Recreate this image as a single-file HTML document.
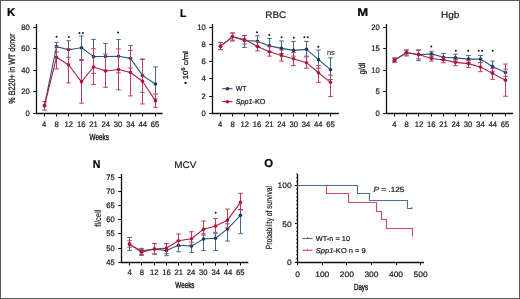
<!DOCTYPE html>
<html><head><meta charset="utf-8"><style>
html,body{margin:0;padding:0;background:#fff;}
body{width:520px;height:299px;overflow:hidden;}
svg{display:block;will-change:transform;text-rendering:geometricPrecision;font-family:"Liberation Sans",sans-serif;}
text{stroke:currentColor;stroke-width:0.22px;}
</style></head><body>
<svg width="520" height="299" viewBox="0 0 520 299">
<rect x="0" y="0" width="520" height="299" fill="#fff"/>
<text x="11.10" y="16.35" font-size="11.4" text-anchor="middle" font-weight="bold" fill="#000" color="#000" >K</text>
<line x1="36.50" y1="23.90" x2="36.50" y2="114.05" stroke="#111" stroke-width="1.3" />
<line x1="33.20" y1="113.50" x2="36.50" y2="113.50" stroke="#111" stroke-width="1.0" />
<text x="29.70" y="115.90" font-size="7.9" text-anchor="end" font-weight="normal" fill="#1a1a1a" color="#1a1a1a" transform="translate(29.70 0) scale(0.97 1) translate(-29.70 0)" >0</text>
<line x1="33.20" y1="91.50" x2="36.50" y2="91.50" stroke="#111" stroke-width="1.0" />
<text x="29.70" y="94.40" font-size="7.9" text-anchor="end" font-weight="normal" fill="#1a1a1a" color="#1a1a1a" transform="translate(29.70 0) scale(0.97 1) translate(-29.70 0)" >20</text>
<line x1="33.20" y1="70.50" x2="36.50" y2="70.50" stroke="#111" stroke-width="1.0" />
<text x="29.70" y="72.90" font-size="7.9" text-anchor="end" font-weight="normal" fill="#1a1a1a" color="#1a1a1a" transform="translate(29.70 0) scale(0.97 1) translate(-29.70 0)" >40</text>
<line x1="33.20" y1="48.50" x2="36.50" y2="48.50" stroke="#111" stroke-width="1.0" />
<text x="29.70" y="51.40" font-size="7.9" text-anchor="end" font-weight="normal" fill="#1a1a1a" color="#1a1a1a" transform="translate(29.70 0) scale(0.97 1) translate(-29.70 0)" >60</text>
<line x1="33.20" y1="27.50" x2="36.50" y2="27.50" stroke="#111" stroke-width="1.0" />
<text x="29.70" y="29.90" font-size="7.9" text-anchor="end" font-weight="normal" fill="#1a1a1a" color="#1a1a1a" transform="translate(29.70 0) scale(0.97 1) translate(-29.70 0)" >80</text>
<line x1="35.85" y1="113.50" x2="162.60" y2="113.50" stroke="#111" stroke-width="1.3" />
<line x1="44.50" y1="113.50" x2="44.50" y2="116.50" stroke="#111" stroke-width="1.0" />
<text x="44.25" y="126.80" font-size="7.9" text-anchor="middle" font-weight="normal" fill="#1a1a1a" color="#1a1a1a" transform="translate(44.25 0) scale(0.97 1) translate(-44.25 0)" >4</text>
<line x1="56.50" y1="113.50" x2="56.50" y2="116.50" stroke="#111" stroke-width="1.0" />
<text x="56.56" y="126.80" font-size="7.9" text-anchor="middle" font-weight="normal" fill="#1a1a1a" color="#1a1a1a" transform="translate(56.56 0) scale(0.97 1) translate(-56.56 0)" >8</text>
<line x1="68.50" y1="113.50" x2="68.50" y2="116.50" stroke="#111" stroke-width="1.0" />
<text x="68.87" y="126.80" font-size="7.9" text-anchor="middle" font-weight="normal" fill="#1a1a1a" color="#1a1a1a" transform="translate(68.87 0) scale(0.97 1) translate(-68.87 0)" >12</text>
<line x1="81.50" y1="113.50" x2="81.50" y2="116.50" stroke="#111" stroke-width="1.0" />
<text x="81.18" y="126.80" font-size="7.9" text-anchor="middle" font-weight="normal" fill="#1a1a1a" color="#1a1a1a" transform="translate(81.18 0) scale(0.97 1) translate(-81.18 0)" >16</text>
<line x1="93.50" y1="113.50" x2="93.50" y2="116.50" stroke="#111" stroke-width="1.0" />
<text x="93.49" y="126.80" font-size="7.9" text-anchor="middle" font-weight="normal" fill="#1a1a1a" color="#1a1a1a" transform="translate(93.49 0) scale(0.97 1) translate(-93.49 0)" >21</text>
<line x1="105.50" y1="113.50" x2="105.50" y2="116.50" stroke="#111" stroke-width="1.0" />
<text x="105.80" y="126.80" font-size="7.9" text-anchor="middle" font-weight="normal" fill="#1a1a1a" color="#1a1a1a" transform="translate(105.80 0) scale(0.97 1) translate(-105.80 0)" >24</text>
<line x1="118.50" y1="113.50" x2="118.50" y2="116.50" stroke="#111" stroke-width="1.0" />
<text x="118.11" y="126.80" font-size="7.9" text-anchor="middle" font-weight="normal" fill="#1a1a1a" color="#1a1a1a" transform="translate(118.11 0) scale(0.97 1) translate(-118.11 0)" >30</text>
<line x1="130.50" y1="113.50" x2="130.50" y2="116.50" stroke="#111" stroke-width="1.0" />
<text x="130.42" y="126.80" font-size="7.9" text-anchor="middle" font-weight="normal" fill="#1a1a1a" color="#1a1a1a" transform="translate(130.42 0) scale(0.97 1) translate(-130.42 0)" >34</text>
<line x1="142.50" y1="113.50" x2="142.50" y2="116.50" stroke="#111" stroke-width="1.0" />
<text x="142.73" y="126.80" font-size="7.9" text-anchor="middle" font-weight="normal" fill="#1a1a1a" color="#1a1a1a" transform="translate(142.73 0) scale(0.97 1) translate(-142.73 0)" >44</text>
<line x1="155.50" y1="113.50" x2="155.50" y2="116.50" stroke="#111" stroke-width="1.0" />
<text x="155.04" y="126.80" font-size="7.9" text-anchor="middle" font-weight="normal" fill="#1a1a1a" color="#1a1a1a" transform="translate(155.04 0) scale(0.97 1) translate(-155.04 0)" >65</text>
<text x="99.25" y="139.70" font-size="8.8" text-anchor="middle" font-weight="normal" fill="#1a1a1a" color="#1a1a1a" transform="translate(99.25 0) scale(0.72 1) translate(-99.25 0)" style="stroke-width:0.4px">Weeks</text>
<text font-size="9.2" fill="#1a1a1a" color="#1a1a1a" text-anchor="middle" style="stroke-width:0.3px" transform="translate(15.20 68.60) rotate(-90) scale(0.78 1)">% B220+ in WT donor</text>
<line x1="56.50" y1="46.62" x2="56.50" y2="51.95" stroke="#416890" stroke-width="1.0" />
<line x1="54.20" y1="51.95" x2="58.80" y2="51.95" stroke="#416890" stroke-width="1.0" />
<line x1="56.50" y1="46.62" x2="56.50" y2="42.34" stroke="#416890" stroke-width="1.0" />
<line x1="54.20" y1="42.34" x2="58.80" y2="42.34" stroke="#416890" stroke-width="1.0" />
<line x1="68.50" y1="49.82" x2="68.50" y2="57.29" stroke="#416890" stroke-width="1.0" />
<line x1="66.20" y1="57.29" x2="70.80" y2="57.29" stroke="#416890" stroke-width="1.0" />
<line x1="68.50" y1="49.82" x2="68.50" y2="40.74" stroke="#416890" stroke-width="1.0" />
<line x1="66.20" y1="40.74" x2="70.80" y2="40.74" stroke="#416890" stroke-width="1.0" />
<line x1="81.50" y1="47.68" x2="81.50" y2="60.49" stroke="#416890" stroke-width="1.0" />
<line x1="79.20" y1="60.49" x2="83.80" y2="60.49" stroke="#416890" stroke-width="1.0" />
<line x1="81.50" y1="47.68" x2="81.50" y2="35.94" stroke="#416890" stroke-width="1.0" />
<line x1="79.20" y1="35.94" x2="83.80" y2="35.94" stroke="#416890" stroke-width="1.0" />
<line x1="93.50" y1="56.65" x2="93.50" y2="73.30" stroke="#416890" stroke-width="1.0" />
<line x1="91.20" y1="73.30" x2="95.80" y2="73.30" stroke="#416890" stroke-width="1.0" />
<line x1="93.50" y1="56.65" x2="93.50" y2="39.36" stroke="#416890" stroke-width="1.0" />
<line x1="91.20" y1="39.36" x2="95.80" y2="39.36" stroke="#416890" stroke-width="1.0" />
<line x1="105.50" y1="56.44" x2="105.50" y2="70.10" stroke="#416890" stroke-width="1.0" />
<line x1="103.20" y1="70.10" x2="107.80" y2="70.10" stroke="#416890" stroke-width="1.0" />
<line x1="105.50" y1="56.44" x2="105.50" y2="43.41" stroke="#416890" stroke-width="1.0" />
<line x1="103.20" y1="43.41" x2="107.80" y2="43.41" stroke="#416890" stroke-width="1.0" />
<line x1="118.50" y1="56.22" x2="118.50" y2="72.88" stroke="#416890" stroke-width="1.0" />
<line x1="116.20" y1="72.88" x2="120.80" y2="72.88" stroke="#416890" stroke-width="1.0" />
<line x1="118.50" y1="56.22" x2="118.50" y2="39.57" stroke="#416890" stroke-width="1.0" />
<line x1="116.20" y1="39.57" x2="120.80" y2="39.57" stroke="#416890" stroke-width="1.0" />
<line x1="130.50" y1="58.36" x2="130.50" y2="67.97" stroke="#416890" stroke-width="1.0" />
<line x1="128.20" y1="67.97" x2="132.80" y2="67.97" stroke="#416890" stroke-width="1.0" />
<line x1="130.50" y1="58.36" x2="130.50" y2="45.55" stroke="#416890" stroke-width="1.0" />
<line x1="128.20" y1="45.55" x2="132.80" y2="45.55" stroke="#416890" stroke-width="1.0" />
<line x1="142.50" y1="75.44" x2="142.50" y2="92.30" stroke="#416890" stroke-width="1.0" />
<line x1="140.20" y1="92.30" x2="144.80" y2="92.30" stroke="#416890" stroke-width="1.0" />
<line x1="142.50" y1="75.44" x2="142.50" y2="59.43" stroke="#416890" stroke-width="1.0" />
<line x1="140.20" y1="59.43" x2="144.80" y2="59.43" stroke="#416890" stroke-width="1.0" />
<line x1="155.50" y1="83.98" x2="155.50" y2="98.92" stroke="#416890" stroke-width="1.0" />
<line x1="153.20" y1="98.92" x2="157.80" y2="98.92" stroke="#416890" stroke-width="1.0" />
<line x1="155.50" y1="83.98" x2="155.50" y2="66.90" stroke="#416890" stroke-width="1.0" />
<line x1="153.20" y1="66.90" x2="157.80" y2="66.90" stroke="#416890" stroke-width="1.0" />
<polyline points="44.50,105.33 56.50,46.62 68.50,49.82 81.50,47.68 93.50,56.65 105.50,56.44 118.50,56.22 130.50,58.36 142.50,75.44 155.50,83.98" fill="none" stroke="#2c5580" stroke-width="1.1" stroke-linejoin="round"/>
<circle cx="44.50" cy="105.33" r="1.8" fill="#1c3a5c"/>
<circle cx="56.50" cy="46.62" r="1.8" fill="#1c3a5c"/>
<circle cx="68.50" cy="49.82" r="1.8" fill="#1c3a5c"/>
<circle cx="81.50" cy="47.68" r="1.8" fill="#1c3a5c"/>
<circle cx="93.50" cy="56.65" r="1.8" fill="#1c3a5c"/>
<circle cx="105.50" cy="56.44" r="1.8" fill="#1c3a5c"/>
<circle cx="118.50" cy="56.22" r="1.8" fill="#1c3a5c"/>
<circle cx="130.50" cy="58.36" r="1.8" fill="#1c3a5c"/>
<circle cx="142.50" cy="75.44" r="1.8" fill="#1c3a5c"/>
<circle cx="155.50" cy="83.98" r="1.8" fill="#1c3a5c"/>
<line x1="44.50" y1="105.97" x2="44.50" y2="110.13" stroke="#c8385c" stroke-width="1.0" />
<line x1="42.20" y1="110.13" x2="46.80" y2="110.13" stroke="#c8385c" stroke-width="1.0" />
<line x1="44.50" y1="105.97" x2="44.50" y2="101.59" stroke="#c8385c" stroke-width="1.0" />
<line x1="42.20" y1="101.59" x2="46.80" y2="101.59" stroke="#c8385c" stroke-width="1.0" />
<line x1="56.50" y1="57.29" x2="56.50" y2="69.03" stroke="#c8385c" stroke-width="1.0" />
<line x1="54.20" y1="69.03" x2="58.80" y2="69.03" stroke="#c8385c" stroke-width="1.0" />
<line x1="56.50" y1="57.29" x2="56.50" y2="46.62" stroke="#c8385c" stroke-width="1.0" />
<line x1="54.20" y1="46.62" x2="58.80" y2="46.62" stroke="#c8385c" stroke-width="1.0" />
<line x1="68.50" y1="64.76" x2="68.50" y2="82.91" stroke="#c8385c" stroke-width="1.0" />
<line x1="66.20" y1="82.91" x2="70.80" y2="82.91" stroke="#c8385c" stroke-width="1.0" />
<line x1="68.50" y1="64.76" x2="68.50" y2="48.75" stroke="#c8385c" stroke-width="1.0" />
<line x1="66.20" y1="48.75" x2="70.80" y2="48.75" stroke="#c8385c" stroke-width="1.0" />
<line x1="81.50" y1="81.84" x2="81.50" y2="103.19" stroke="#c8385c" stroke-width="1.0" />
<line x1="79.20" y1="103.19" x2="83.80" y2="103.19" stroke="#c8385c" stroke-width="1.0" />
<line x1="81.50" y1="81.84" x2="81.50" y2="59.43" stroke="#c8385c" stroke-width="1.0" />
<line x1="79.20" y1="59.43" x2="83.80" y2="59.43" stroke="#c8385c" stroke-width="1.0" />
<line x1="93.50" y1="67.00" x2="93.50" y2="84.51" stroke="#c8385c" stroke-width="1.0" />
<line x1="91.20" y1="84.51" x2="95.80" y2="84.51" stroke="#c8385c" stroke-width="1.0" />
<line x1="93.50" y1="67.00" x2="93.50" y2="48.75" stroke="#c8385c" stroke-width="1.0" />
<line x1="91.20" y1="48.75" x2="95.80" y2="48.75" stroke="#c8385c" stroke-width="1.0" />
<line x1="105.50" y1="70.95" x2="105.50" y2="87.29" stroke="#c8385c" stroke-width="1.0" />
<line x1="103.20" y1="87.29" x2="107.80" y2="87.29" stroke="#c8385c" stroke-width="1.0" />
<line x1="105.50" y1="70.95" x2="105.50" y2="54.09" stroke="#c8385c" stroke-width="1.0" />
<line x1="103.20" y1="54.09" x2="107.80" y2="54.09" stroke="#c8385c" stroke-width="1.0" />
<line x1="118.50" y1="69.57" x2="118.50" y2="89.85" stroke="#c8385c" stroke-width="1.0" />
<line x1="116.20" y1="89.85" x2="120.80" y2="89.85" stroke="#c8385c" stroke-width="1.0" />
<line x1="118.50" y1="69.57" x2="118.50" y2="48.96" stroke="#c8385c" stroke-width="1.0" />
<line x1="116.20" y1="48.96" x2="120.80" y2="48.96" stroke="#c8385c" stroke-width="1.0" />
<line x1="130.50" y1="72.56" x2="130.50" y2="95.93" stroke="#c8385c" stroke-width="1.0" />
<line x1="128.20" y1="95.93" x2="132.80" y2="95.93" stroke="#c8385c" stroke-width="1.0" />
<line x1="130.50" y1="72.56" x2="130.50" y2="50.46" stroke="#c8385c" stroke-width="1.0" />
<line x1="128.20" y1="50.46" x2="132.80" y2="50.46" stroke="#c8385c" stroke-width="1.0" />
<line x1="142.50" y1="81.31" x2="142.50" y2="103.94" stroke="#c8385c" stroke-width="1.0" />
<line x1="140.20" y1="103.94" x2="144.80" y2="103.94" stroke="#c8385c" stroke-width="1.0" />
<line x1="142.50" y1="81.31" x2="142.50" y2="59.00" stroke="#c8385c" stroke-width="1.0" />
<line x1="140.20" y1="59.00" x2="144.80" y2="59.00" stroke="#c8385c" stroke-width="1.0" />
<line x1="155.50" y1="100.90" x2="155.50" y2="107.30" stroke="#c8385c" stroke-width="1.0" />
<line x1="153.20" y1="107.30" x2="157.80" y2="107.30" stroke="#c8385c" stroke-width="1.0" />
<line x1="155.50" y1="100.90" x2="155.50" y2="94.12" stroke="#c8385c" stroke-width="1.0" />
<line x1="153.20" y1="94.12" x2="157.80" y2="94.12" stroke="#c8385c" stroke-width="1.0" />
<polyline points="44.50,105.97 56.50,57.29 68.50,64.76 81.50,81.84 93.50,67.00 105.50,70.95 118.50,69.57 130.50,72.56 142.50,81.31 155.50,100.90" fill="none" stroke="#b41c42" stroke-width="1.1" stroke-linejoin="round"/>
<circle cx="44.50" cy="105.97" r="1.8" fill="#b0143f"/>
<circle cx="56.50" cy="57.29" r="1.8" fill="#b0143f"/>
<circle cx="68.50" cy="64.76" r="1.8" fill="#b0143f"/>
<circle cx="81.50" cy="81.84" r="1.8" fill="#b0143f"/>
<circle cx="93.50" cy="67.00" r="1.8" fill="#b0143f"/>
<circle cx="105.50" cy="70.95" r="1.8" fill="#b0143f"/>
<circle cx="118.50" cy="69.57" r="1.8" fill="#b0143f"/>
<circle cx="130.50" cy="72.56" r="1.8" fill="#b0143f"/>
<circle cx="142.50" cy="81.31" r="1.8" fill="#b0143f"/>
<circle cx="155.50" cy="100.90" r="1.8" fill="#b0143f"/>
<circle cx="56.56" cy="36.80" r="1.0" fill="#151515"/>
<circle cx="68.87" cy="37.10" r="1.0" fill="#151515"/>
<circle cx="79.48" cy="33.00" r="1.0" fill="#151515"/>
<circle cx="82.88" cy="33.00" r="1.0" fill="#151515"/>
<circle cx="118.11" cy="32.50" r="1.0" fill="#151515"/>
<text x="183.10" y="16.50" font-size="11.4" text-anchor="middle" font-weight="bold" fill="#000" color="#000" transform="translate(183.10 0) scale(0.92 1) translate(-183.10 0)" >L</text>
<text x="275.75" y="18.20" font-size="9.5" text-anchor="middle" font-weight="normal" fill="#1a1a1a" color="#1a1a1a" transform="translate(275.75 0) scale(1.05 1) translate(-275.75 0)" style="stroke-width:0.2px">RBC</text>
<line x1="212.50" y1="23.90" x2="212.50" y2="113.95" stroke="#111" stroke-width="1.3" />
<line x1="209.20" y1="113.50" x2="212.50" y2="113.50" stroke="#111" stroke-width="1.0" />
<text x="205.70" y="115.80" font-size="7.9" text-anchor="end" font-weight="normal" fill="#1a1a1a" color="#1a1a1a" transform="translate(205.70 0) scale(0.97 1) translate(-205.70 0)" >0</text>
<line x1="209.20" y1="96.50" x2="212.50" y2="96.50" stroke="#111" stroke-width="1.0" />
<text x="205.70" y="98.58" font-size="7.9" text-anchor="end" font-weight="normal" fill="#1a1a1a" color="#1a1a1a" transform="translate(205.70 0) scale(0.97 1) translate(-205.70 0)" >2</text>
<line x1="209.20" y1="78.50" x2="212.50" y2="78.50" stroke="#111" stroke-width="1.0" />
<text x="205.70" y="81.36" font-size="7.9" text-anchor="end" font-weight="normal" fill="#1a1a1a" color="#1a1a1a" transform="translate(205.70 0) scale(0.97 1) translate(-205.70 0)" >4</text>
<line x1="209.20" y1="61.50" x2="212.50" y2="61.50" stroke="#111" stroke-width="1.0" />
<text x="205.70" y="64.14" font-size="7.9" text-anchor="end" font-weight="normal" fill="#1a1a1a" color="#1a1a1a" transform="translate(205.70 0) scale(0.97 1) translate(-205.70 0)" >6</text>
<line x1="209.20" y1="44.50" x2="212.50" y2="44.50" stroke="#111" stroke-width="1.0" />
<text x="205.70" y="46.92" font-size="7.9" text-anchor="end" font-weight="normal" fill="#1a1a1a" color="#1a1a1a" transform="translate(205.70 0) scale(0.97 1) translate(-205.70 0)" >8</text>
<line x1="209.20" y1="27.50" x2="212.50" y2="27.50" stroke="#111" stroke-width="1.0" />
<text x="205.70" y="29.70" font-size="7.9" text-anchor="end" font-weight="normal" fill="#1a1a1a" color="#1a1a1a" transform="translate(205.70 0) scale(0.97 1) translate(-205.70 0)" >10</text>
<line x1="211.85" y1="113.50" x2="338.90" y2="113.50" stroke="#111" stroke-width="1.3" />
<line x1="220.50" y1="113.50" x2="220.50" y2="116.50" stroke="#111" stroke-width="1.0" />
<text x="220.25" y="126.70" font-size="7.9" text-anchor="middle" font-weight="normal" fill="#1a1a1a" color="#1a1a1a" transform="translate(220.25 0) scale(0.97 1) translate(-220.25 0)" >4</text>
<line x1="232.50" y1="113.50" x2="232.50" y2="116.50" stroke="#111" stroke-width="1.0" />
<text x="232.51" y="126.70" font-size="7.9" text-anchor="middle" font-weight="normal" fill="#1a1a1a" color="#1a1a1a" transform="translate(232.51 0) scale(0.97 1) translate(-232.51 0)" >8</text>
<line x1="244.50" y1="113.50" x2="244.50" y2="116.50" stroke="#111" stroke-width="1.0" />
<text x="244.77" y="126.70" font-size="7.9" text-anchor="middle" font-weight="normal" fill="#1a1a1a" color="#1a1a1a" transform="translate(244.77 0) scale(0.97 1) translate(-244.77 0)" >12</text>
<line x1="257.50" y1="113.50" x2="257.50" y2="116.50" stroke="#111" stroke-width="1.0" />
<text x="257.03" y="126.70" font-size="7.9" text-anchor="middle" font-weight="normal" fill="#1a1a1a" color="#1a1a1a" transform="translate(257.03 0) scale(0.97 1) translate(-257.03 0)" >16</text>
<line x1="269.50" y1="113.50" x2="269.50" y2="116.50" stroke="#111" stroke-width="1.0" />
<text x="269.29" y="126.70" font-size="7.9" text-anchor="middle" font-weight="normal" fill="#1a1a1a" color="#1a1a1a" transform="translate(269.29 0) scale(0.97 1) translate(-269.29 0)" >21</text>
<line x1="281.50" y1="113.50" x2="281.50" y2="116.50" stroke="#111" stroke-width="1.0" />
<text x="281.55" y="126.70" font-size="7.9" text-anchor="middle" font-weight="normal" fill="#1a1a1a" color="#1a1a1a" transform="translate(281.55 0) scale(0.97 1) translate(-281.55 0)" >24</text>
<line x1="293.50" y1="113.50" x2="293.50" y2="116.50" stroke="#111" stroke-width="1.0" />
<text x="293.81" y="126.70" font-size="7.9" text-anchor="middle" font-weight="normal" fill="#1a1a1a" color="#1a1a1a" transform="translate(293.81 0) scale(0.97 1) translate(-293.81 0)" >30</text>
<line x1="306.50" y1="113.50" x2="306.50" y2="116.50" stroke="#111" stroke-width="1.0" />
<text x="306.07" y="126.70" font-size="7.9" text-anchor="middle" font-weight="normal" fill="#1a1a1a" color="#1a1a1a" transform="translate(306.07 0) scale(0.97 1) translate(-306.07 0)" >34</text>
<line x1="318.50" y1="113.50" x2="318.50" y2="116.50" stroke="#111" stroke-width="1.0" />
<text x="318.33" y="126.70" font-size="7.9" text-anchor="middle" font-weight="normal" fill="#1a1a1a" color="#1a1a1a" transform="translate(318.33 0) scale(0.97 1) translate(-318.33 0)" >44</text>
<line x1="330.50" y1="113.50" x2="330.50" y2="116.50" stroke="#111" stroke-width="1.0" />
<text x="330.59" y="126.70" font-size="7.9" text-anchor="middle" font-weight="normal" fill="#1a1a1a" color="#1a1a1a" transform="translate(330.59 0) scale(0.97 1) translate(-330.59 0)" >65</text>
<text font-size="7.3" fill="#1a1a1a" color="#1a1a1a" text-anchor="middle" style="stroke-width:0.3px" transform="translate(188.1 67.6) rotate(-90) scale(1.06 1)">• 10<tspan font-size="5.6" dy="-2.7">6</tspan><tspan dy="2.7"> c/ml</tspan></text>
<line x1="220.50" y1="46.16" x2="220.50" y2="49.62" stroke="#416890" stroke-width="1.0" />
<line x1="218.20" y1="49.62" x2="222.80" y2="49.62" stroke="#416890" stroke-width="1.0" />
<line x1="220.50" y1="46.16" x2="220.50" y2="42.53" stroke="#416890" stroke-width="1.0" />
<line x1="218.20" y1="42.53" x2="222.80" y2="42.53" stroke="#416890" stroke-width="1.0" />
<line x1="232.50" y1="36.65" x2="232.50" y2="40.11" stroke="#416890" stroke-width="1.0" />
<line x1="230.20" y1="40.11" x2="234.80" y2="40.11" stroke="#416890" stroke-width="1.0" />
<line x1="232.50" y1="36.65" x2="232.50" y2="33.01" stroke="#416890" stroke-width="1.0" />
<line x1="230.20" y1="33.01" x2="234.80" y2="33.01" stroke="#416890" stroke-width="1.0" />
<line x1="244.50" y1="40.54" x2="244.50" y2="47.46" stroke="#416890" stroke-width="1.0" />
<line x1="242.20" y1="47.46" x2="246.80" y2="47.46" stroke="#416890" stroke-width="1.0" />
<line x1="244.50" y1="40.54" x2="244.50" y2="35.52" stroke="#416890" stroke-width="1.0" />
<line x1="242.20" y1="35.52" x2="246.80" y2="35.52" stroke="#416890" stroke-width="1.0" />
<line x1="257.50" y1="41.23" x2="257.50" y2="46.59" stroke="#416890" stroke-width="1.0" />
<line x1="255.20" y1="46.59" x2="259.80" y2="46.59" stroke="#416890" stroke-width="1.0" />
<line x1="257.50" y1="41.23" x2="257.50" y2="35.78" stroke="#416890" stroke-width="1.0" />
<line x1="255.20" y1="35.78" x2="259.80" y2="35.78" stroke="#416890" stroke-width="1.0" />
<line x1="269.50" y1="45.90" x2="269.50" y2="51.79" stroke="#416890" stroke-width="1.0" />
<line x1="267.20" y1="51.79" x2="271.80" y2="51.79" stroke="#416890" stroke-width="1.0" />
<line x1="269.50" y1="45.90" x2="269.50" y2="38.38" stroke="#416890" stroke-width="1.0" />
<line x1="267.20" y1="38.38" x2="271.80" y2="38.38" stroke="#416890" stroke-width="1.0" />
<line x1="281.50" y1="48.41" x2="281.50" y2="53.52" stroke="#416890" stroke-width="1.0" />
<line x1="279.20" y1="53.52" x2="283.80" y2="53.52" stroke="#416890" stroke-width="1.0" />
<line x1="281.50" y1="48.41" x2="281.50" y2="40.97" stroke="#416890" stroke-width="1.0" />
<line x1="279.20" y1="40.97" x2="283.80" y2="40.97" stroke="#416890" stroke-width="1.0" />
<line x1="293.50" y1="50.40" x2="293.50" y2="56.11" stroke="#416890" stroke-width="1.0" />
<line x1="291.20" y1="56.11" x2="295.80" y2="56.11" stroke="#416890" stroke-width="1.0" />
<line x1="293.50" y1="50.40" x2="293.50" y2="41.40" stroke="#416890" stroke-width="1.0" />
<line x1="291.20" y1="41.40" x2="295.80" y2="41.40" stroke="#416890" stroke-width="1.0" />
<line x1="306.50" y1="49.36" x2="306.50" y2="56.11" stroke="#416890" stroke-width="1.0" />
<line x1="304.20" y1="56.11" x2="308.80" y2="56.11" stroke="#416890" stroke-width="1.0" />
<line x1="306.50" y1="49.36" x2="306.50" y2="41.40" stroke="#416890" stroke-width="1.0" />
<line x1="304.20" y1="41.40" x2="308.80" y2="41.40" stroke="#416890" stroke-width="1.0" />
<line x1="318.50" y1="59.66" x2="318.50" y2="68.22" stroke="#416890" stroke-width="1.0" />
<line x1="316.20" y1="68.22" x2="320.80" y2="68.22" stroke="#416890" stroke-width="1.0" />
<line x1="318.50" y1="59.66" x2="318.50" y2="50.05" stroke="#416890" stroke-width="1.0" />
<line x1="316.20" y1="50.05" x2="320.80" y2="50.05" stroke="#416890" stroke-width="1.0" />
<line x1="330.50" y1="69.69" x2="330.50" y2="79.47" stroke="#416890" stroke-width="1.0" />
<line x1="328.20" y1="79.47" x2="332.80" y2="79.47" stroke="#416890" stroke-width="1.0" />
<line x1="330.50" y1="69.69" x2="330.50" y2="57.84" stroke="#416890" stroke-width="1.0" />
<line x1="328.20" y1="57.84" x2="332.80" y2="57.84" stroke="#416890" stroke-width="1.0" />
<polyline points="220.50,46.16 232.50,36.65 244.50,40.54 257.50,41.23 269.50,45.90 281.50,48.41 293.50,50.40 306.50,49.36 318.50,59.66 330.50,69.69" fill="none" stroke="#2c5580" stroke-width="1.1" stroke-linejoin="round"/>
<circle cx="220.50" cy="46.16" r="1.8" fill="#1c3a5c"/>
<circle cx="232.50" cy="36.65" r="1.8" fill="#1c3a5c"/>
<circle cx="244.50" cy="40.54" r="1.8" fill="#1c3a5c"/>
<circle cx="257.50" cy="41.23" r="1.8" fill="#1c3a5c"/>
<circle cx="269.50" cy="45.90" r="1.8" fill="#1c3a5c"/>
<circle cx="281.50" cy="48.41" r="1.8" fill="#1c3a5c"/>
<circle cx="293.50" cy="50.40" r="1.8" fill="#1c3a5c"/>
<circle cx="306.50" cy="49.36" r="1.8" fill="#1c3a5c"/>
<circle cx="318.50" cy="59.66" r="1.8" fill="#1c3a5c"/>
<circle cx="330.50" cy="69.69" r="1.8" fill="#1c3a5c"/>
<line x1="220.50" y1="46.34" x2="220.50" y2="49.62" stroke="#c8385c" stroke-width="1.0" />
<line x1="218.20" y1="49.62" x2="222.80" y2="49.62" stroke="#c8385c" stroke-width="1.0" />
<line x1="220.50" y1="46.34" x2="220.50" y2="42.53" stroke="#c8385c" stroke-width="1.0" />
<line x1="218.20" y1="42.53" x2="222.80" y2="42.53" stroke="#c8385c" stroke-width="1.0" />
<line x1="232.50" y1="36.82" x2="232.50" y2="40.97" stroke="#c8385c" stroke-width="1.0" />
<line x1="230.20" y1="40.97" x2="234.80" y2="40.97" stroke="#c8385c" stroke-width="1.0" />
<line x1="232.50" y1="36.82" x2="232.50" y2="33.01" stroke="#c8385c" stroke-width="1.0" />
<line x1="230.20" y1="33.01" x2="234.80" y2="33.01" stroke="#c8385c" stroke-width="1.0" />
<line x1="244.50" y1="39.50" x2="244.50" y2="44.00" stroke="#c8385c" stroke-width="1.0" />
<line x1="242.20" y1="44.00" x2="246.80" y2="44.00" stroke="#c8385c" stroke-width="1.0" />
<line x1="244.50" y1="39.50" x2="244.50" y2="35.52" stroke="#c8385c" stroke-width="1.0" />
<line x1="242.20" y1="35.52" x2="246.80" y2="35.52" stroke="#c8385c" stroke-width="1.0" />
<line x1="257.50" y1="46.42" x2="257.50" y2="50.92" stroke="#c8385c" stroke-width="1.0" />
<line x1="255.20" y1="50.92" x2="259.80" y2="50.92" stroke="#c8385c" stroke-width="1.0" />
<line x1="257.50" y1="46.42" x2="257.50" y2="41.40" stroke="#c8385c" stroke-width="1.0" />
<line x1="255.20" y1="41.40" x2="259.80" y2="41.40" stroke="#c8385c" stroke-width="1.0" />
<line x1="269.50" y1="51.79" x2="269.50" y2="56.11" stroke="#c8385c" stroke-width="1.0" />
<line x1="267.20" y1="56.11" x2="271.80" y2="56.11" stroke="#c8385c" stroke-width="1.0" />
<line x1="269.50" y1="51.79" x2="269.50" y2="46.59" stroke="#c8385c" stroke-width="1.0" />
<line x1="267.20" y1="46.59" x2="271.80" y2="46.59" stroke="#c8385c" stroke-width="1.0" />
<line x1="281.50" y1="55.42" x2="281.50" y2="61.04" stroke="#c8385c" stroke-width="1.0" />
<line x1="279.20" y1="61.04" x2="283.80" y2="61.04" stroke="#c8385c" stroke-width="1.0" />
<line x1="281.50" y1="55.42" x2="281.50" y2="50.05" stroke="#c8385c" stroke-width="1.0" />
<line x1="279.20" y1="50.05" x2="283.80" y2="50.05" stroke="#c8385c" stroke-width="1.0" />
<line x1="293.50" y1="58.79" x2="293.50" y2="65.62" stroke="#c8385c" stroke-width="1.0" />
<line x1="291.20" y1="65.62" x2="295.80" y2="65.62" stroke="#c8385c" stroke-width="1.0" />
<line x1="293.50" y1="58.79" x2="293.50" y2="52.65" stroke="#c8385c" stroke-width="1.0" />
<line x1="291.20" y1="52.65" x2="295.80" y2="52.65" stroke="#c8385c" stroke-width="1.0" />
<line x1="306.50" y1="62.68" x2="306.50" y2="68.22" stroke="#c8385c" stroke-width="1.0" />
<line x1="304.20" y1="68.22" x2="308.80" y2="68.22" stroke="#c8385c" stroke-width="1.0" />
<line x1="306.50" y1="62.68" x2="306.50" y2="56.98" stroke="#c8385c" stroke-width="1.0" />
<line x1="304.20" y1="56.98" x2="308.80" y2="56.98" stroke="#c8385c" stroke-width="1.0" />
<line x1="318.50" y1="72.72" x2="318.50" y2="82.32" stroke="#c8385c" stroke-width="1.0" />
<line x1="316.20" y1="82.32" x2="320.80" y2="82.32" stroke="#c8385c" stroke-width="1.0" />
<line x1="318.50" y1="72.72" x2="318.50" y2="65.62" stroke="#c8385c" stroke-width="1.0" />
<line x1="316.20" y1="65.62" x2="320.80" y2="65.62" stroke="#c8385c" stroke-width="1.0" />
<line x1="330.50" y1="82.32" x2="330.50" y2="96.59" stroke="#c8385c" stroke-width="1.0" />
<line x1="328.20" y1="96.59" x2="332.80" y2="96.59" stroke="#c8385c" stroke-width="1.0" />
<line x1="330.50" y1="82.32" x2="330.50" y2="75.14" stroke="#c8385c" stroke-width="1.0" />
<line x1="328.20" y1="75.14" x2="332.80" y2="75.14" stroke="#c8385c" stroke-width="1.0" />
<polyline points="220.50,46.34 232.50,36.82 244.50,39.50 257.50,46.42 269.50,51.79 281.50,55.42 293.50,58.79 306.50,62.68 318.50,72.72 330.50,82.32" fill="none" stroke="#b41c42" stroke-width="1.1" stroke-linejoin="round"/>
<circle cx="220.50" cy="46.34" r="1.8" fill="#b0143f"/>
<circle cx="232.50" cy="36.82" r="1.8" fill="#b0143f"/>
<circle cx="244.50" cy="39.50" r="1.8" fill="#b0143f"/>
<circle cx="257.50" cy="46.42" r="1.8" fill="#b0143f"/>
<circle cx="269.50" cy="51.79" r="1.8" fill="#b0143f"/>
<circle cx="281.50" cy="55.42" r="1.8" fill="#b0143f"/>
<circle cx="293.50" cy="58.79" r="1.8" fill="#b0143f"/>
<circle cx="306.50" cy="62.68" r="1.8" fill="#b0143f"/>
<circle cx="318.50" cy="72.72" r="1.8" fill="#b0143f"/>
<circle cx="330.50" cy="82.32" r="1.8" fill="#b0143f"/>
<circle cx="257.03" cy="32.30" r="1.0" fill="#151515"/>
<circle cx="269.29" cy="35.05" r="1.0" fill="#151515"/>
<circle cx="281.55" cy="37.30" r="1.0" fill="#151515"/>
<circle cx="293.81" cy="37.80" r="1.0" fill="#151515"/>
<circle cx="304.37" cy="37.20" r="1.0" fill="#151515"/>
<circle cx="307.77" cy="37.20" r="1.0" fill="#151515"/>
<circle cx="318.33" cy="46.80" r="1.0" fill="#151515"/>
<text x="330.85" y="54.80" font-size="7.4" text-anchor="middle" font-weight="normal" fill="#1a1a1a" color="#1a1a1a" style="stroke-width:0.05px">ns</text>
<line x1="222.20" y1="88.70" x2="232.50" y2="88.70" stroke="#2c5580" stroke-width="1.1" />
<circle cx="227.4" cy="88.8" r="1.8" fill="#1c3a5c"/>
<line x1="222.20" y1="101.60" x2="232.50" y2="101.60" stroke="#b41c42" stroke-width="1.1" />
<circle cx="227.4" cy="101.7" r="1.8" fill="#b0143f"/>
<text x="235.80" y="91.40" font-size="7.2" text-anchor="start" font-weight="normal" fill="#1a1a1a" color="#1a1a1a" transform="translate(235.80 0) scale(0.96 1) translate(-235.80 0)" >WT</text>
<text x="235.80" y="104.30" font-size="7.2" text-anchor="start" font-weight="normal" fill="#1a1a1a" color="#1a1a1a" ><tspan font-style="italic">Spp1</tspan>-KO</text>
<text x="362.80" y="16.35" font-size="11.4" text-anchor="middle" font-weight="bold" fill="#000" color="#000" transform="translate(362.80 0) scale(1.15 1) translate(-362.80 0)" >M</text>
<text x="450.10" y="18.10" font-size="9.5" text-anchor="middle" font-weight="normal" fill="#1a1a1a" color="#1a1a1a" transform="translate(450.10 0) scale(1.05 1) translate(-450.10 0)" style="stroke-width:0.2px">Hgb</text>
<line x1="386.50" y1="23.90" x2="386.50" y2="113.95" stroke="#111" stroke-width="1.3" />
<line x1="383.20" y1="113.50" x2="386.50" y2="113.50" stroke="#111" stroke-width="1.0" />
<text x="379.70" y="115.80" font-size="7.9" text-anchor="end" font-weight="normal" fill="#1a1a1a" color="#1a1a1a" transform="translate(379.70 0) scale(0.97 1) translate(-379.70 0)" >0</text>
<line x1="383.20" y1="91.50" x2="386.50" y2="91.50" stroke="#111" stroke-width="1.0" />
<text x="379.70" y="94.32" font-size="7.9" text-anchor="end" font-weight="normal" fill="#1a1a1a" color="#1a1a1a" transform="translate(379.70 0) scale(0.97 1) translate(-379.70 0)" >5</text>
<line x1="383.20" y1="70.50" x2="386.50" y2="70.50" stroke="#111" stroke-width="1.0" />
<text x="379.70" y="72.85" font-size="7.9" text-anchor="end" font-weight="normal" fill="#1a1a1a" color="#1a1a1a" transform="translate(379.70 0) scale(0.97 1) translate(-379.70 0)" >10</text>
<line x1="383.20" y1="48.50" x2="386.50" y2="48.50" stroke="#111" stroke-width="1.0" />
<text x="379.70" y="51.38" font-size="7.9" text-anchor="end" font-weight="normal" fill="#1a1a1a" color="#1a1a1a" transform="translate(379.70 0) scale(0.97 1) translate(-379.70 0)" >15</text>
<line x1="383.20" y1="27.50" x2="386.50" y2="27.50" stroke="#111" stroke-width="1.0" />
<text x="379.70" y="29.90" font-size="7.9" text-anchor="end" font-weight="normal" fill="#1a1a1a" color="#1a1a1a" transform="translate(379.70 0) scale(0.97 1) translate(-379.70 0)" >20</text>
<line x1="385.85" y1="113.50" x2="513.10" y2="113.50" stroke="#111" stroke-width="1.3" />
<line x1="394.50" y1="113.50" x2="394.50" y2="116.50" stroke="#111" stroke-width="1.0" />
<text x="394.40" y="126.70" font-size="7.9" text-anchor="middle" font-weight="normal" fill="#1a1a1a" color="#1a1a1a" transform="translate(394.40 0) scale(0.97 1) translate(-394.40 0)" >4</text>
<line x1="406.50" y1="113.50" x2="406.50" y2="116.50" stroke="#111" stroke-width="1.0" />
<text x="406.69" y="126.70" font-size="7.9" text-anchor="middle" font-weight="normal" fill="#1a1a1a" color="#1a1a1a" transform="translate(406.69 0) scale(0.97 1) translate(-406.69 0)" >8</text>
<line x1="418.50" y1="113.50" x2="418.50" y2="116.50" stroke="#111" stroke-width="1.0" />
<text x="418.98" y="126.70" font-size="7.9" text-anchor="middle" font-weight="normal" fill="#1a1a1a" color="#1a1a1a" transform="translate(418.98 0) scale(0.97 1) translate(-418.98 0)" >12</text>
<line x1="431.50" y1="113.50" x2="431.50" y2="116.50" stroke="#111" stroke-width="1.0" />
<text x="431.27" y="126.70" font-size="7.9" text-anchor="middle" font-weight="normal" fill="#1a1a1a" color="#1a1a1a" transform="translate(431.27 0) scale(0.97 1) translate(-431.27 0)" >16</text>
<line x1="443.50" y1="113.50" x2="443.50" y2="116.50" stroke="#111" stroke-width="1.0" />
<text x="443.56" y="126.70" font-size="7.9" text-anchor="middle" font-weight="normal" fill="#1a1a1a" color="#1a1a1a" transform="translate(443.56 0) scale(0.97 1) translate(-443.56 0)" >21</text>
<line x1="455.50" y1="113.50" x2="455.50" y2="116.50" stroke="#111" stroke-width="1.0" />
<text x="455.85" y="126.70" font-size="7.9" text-anchor="middle" font-weight="normal" fill="#1a1a1a" color="#1a1a1a" transform="translate(455.85 0) scale(0.97 1) translate(-455.85 0)" >24</text>
<line x1="468.50" y1="113.50" x2="468.50" y2="116.50" stroke="#111" stroke-width="1.0" />
<text x="468.14" y="126.70" font-size="7.9" text-anchor="middle" font-weight="normal" fill="#1a1a1a" color="#1a1a1a" transform="translate(468.14 0) scale(0.97 1) translate(-468.14 0)" >30</text>
<line x1="480.50" y1="113.50" x2="480.50" y2="116.50" stroke="#111" stroke-width="1.0" />
<text x="480.43" y="126.70" font-size="7.9" text-anchor="middle" font-weight="normal" fill="#1a1a1a" color="#1a1a1a" transform="translate(480.43 0) scale(0.97 1) translate(-480.43 0)" >34</text>
<line x1="492.50" y1="113.50" x2="492.50" y2="116.50" stroke="#111" stroke-width="1.0" />
<text x="492.72" y="126.70" font-size="7.9" text-anchor="middle" font-weight="normal" fill="#1a1a1a" color="#1a1a1a" transform="translate(492.72 0) scale(0.97 1) translate(-492.72 0)" >44</text>
<line x1="505.50" y1="113.50" x2="505.50" y2="116.50" stroke="#111" stroke-width="1.0" />
<text x="505.01" y="126.70" font-size="7.9" text-anchor="middle" font-weight="normal" fill="#1a1a1a" color="#1a1a1a" transform="translate(505.01 0) scale(0.97 1) translate(-505.01 0)" >65</text>
<text font-size="8.8" fill="#1a1a1a" color="#1a1a1a" text-anchor="middle" style="stroke-width:0.3px" transform="translate(365.00 68.45) rotate(-90) scale(0.8 1)">g/dl</text>
<line x1="394.50" y1="60.22" x2="394.50" y2="61.92" stroke="#416890" stroke-width="1.0" />
<line x1="392.20" y1="61.92" x2="396.80" y2="61.92" stroke="#416890" stroke-width="1.0" />
<line x1="394.50" y1="60.22" x2="394.50" y2="58.10" stroke="#416890" stroke-width="1.0" />
<line x1="392.20" y1="58.10" x2="396.80" y2="58.10" stroke="#416890" stroke-width="1.0" />
<line x1="406.50" y1="52.80" x2="406.50" y2="55.98" stroke="#416890" stroke-width="1.0" />
<line x1="404.20" y1="55.98" x2="408.80" y2="55.98" stroke="#416890" stroke-width="1.0" />
<line x1="406.50" y1="52.80" x2="406.50" y2="50.05" stroke="#416890" stroke-width="1.0" />
<line x1="404.20" y1="50.05" x2="408.80" y2="50.05" stroke="#416890" stroke-width="1.0" />
<line x1="418.50" y1="54.71" x2="418.50" y2="60.65" stroke="#416890" stroke-width="1.0" />
<line x1="416.20" y1="60.65" x2="420.80" y2="60.65" stroke="#416890" stroke-width="1.0" />
<line x1="418.50" y1="54.71" x2="418.50" y2="50.05" stroke="#416890" stroke-width="1.0" />
<line x1="416.20" y1="50.05" x2="420.80" y2="50.05" stroke="#416890" stroke-width="1.0" />
<line x1="431.50" y1="53.86" x2="431.50" y2="56.83" stroke="#416890" stroke-width="1.0" />
<line x1="429.20" y1="56.83" x2="433.80" y2="56.83" stroke="#416890" stroke-width="1.0" />
<line x1="431.50" y1="53.86" x2="431.50" y2="51.32" stroke="#416890" stroke-width="1.0" />
<line x1="429.20" y1="51.32" x2="433.80" y2="51.32" stroke="#416890" stroke-width="1.0" />
<line x1="443.50" y1="57.26" x2="443.50" y2="60.22" stroke="#416890" stroke-width="1.0" />
<line x1="441.20" y1="60.22" x2="445.80" y2="60.22" stroke="#416890" stroke-width="1.0" />
<line x1="443.50" y1="57.26" x2="443.50" y2="53.44" stroke="#416890" stroke-width="1.0" />
<line x1="441.20" y1="53.44" x2="445.80" y2="53.44" stroke="#416890" stroke-width="1.0" />
<line x1="455.50" y1="57.89" x2="455.50" y2="61.07" stroke="#416890" stroke-width="1.0" />
<line x1="453.20" y1="61.07" x2="457.80" y2="61.07" stroke="#416890" stroke-width="1.0" />
<line x1="455.50" y1="57.89" x2="455.50" y2="54.29" stroke="#416890" stroke-width="1.0" />
<line x1="453.20" y1="54.29" x2="457.80" y2="54.29" stroke="#416890" stroke-width="1.0" />
<line x1="468.50" y1="59.08" x2="468.50" y2="62.34" stroke="#416890" stroke-width="1.0" />
<line x1="466.20" y1="62.34" x2="470.80" y2="62.34" stroke="#416890" stroke-width="1.0" />
<line x1="468.50" y1="59.08" x2="468.50" y2="55.56" stroke="#416890" stroke-width="1.0" />
<line x1="466.20" y1="55.56" x2="470.80" y2="55.56" stroke="#416890" stroke-width="1.0" />
<line x1="480.50" y1="59.08" x2="480.50" y2="62.34" stroke="#416890" stroke-width="1.0" />
<line x1="478.20" y1="62.34" x2="482.80" y2="62.34" stroke="#416890" stroke-width="1.0" />
<line x1="480.50" y1="59.08" x2="480.50" y2="55.56" stroke="#416890" stroke-width="1.0" />
<line x1="478.20" y1="55.56" x2="482.80" y2="55.56" stroke="#416890" stroke-width="1.0" />
<line x1="492.50" y1="66.58" x2="492.50" y2="71.25" stroke="#416890" stroke-width="1.0" />
<line x1="490.20" y1="71.25" x2="494.80" y2="71.25" stroke="#416890" stroke-width="1.0" />
<line x1="492.50" y1="66.58" x2="492.50" y2="61.07" stroke="#416890" stroke-width="1.0" />
<line x1="490.20" y1="61.07" x2="494.80" y2="61.07" stroke="#416890" stroke-width="1.0" />
<line x1="505.50" y1="72.52" x2="505.50" y2="76.34" stroke="#416890" stroke-width="1.0" />
<line x1="503.20" y1="76.34" x2="507.80" y2="76.34" stroke="#416890" stroke-width="1.0" />
<line x1="505.50" y1="72.52" x2="505.50" y2="69.13" stroke="#416890" stroke-width="1.0" />
<line x1="503.20" y1="69.13" x2="507.80" y2="69.13" stroke="#416890" stroke-width="1.0" />
<polyline points="394.50,60.22 406.50,52.80 418.50,54.71 431.50,53.86 443.50,57.26 455.50,57.89 468.50,59.08 480.50,59.08 492.50,66.58 505.50,72.52" fill="none" stroke="#2c5580" stroke-width="1.1" stroke-linejoin="round"/>
<circle cx="394.50" cy="60.22" r="1.8" fill="#1c3a5c"/>
<circle cx="406.50" cy="52.80" r="1.8" fill="#1c3a5c"/>
<circle cx="418.50" cy="54.71" r="1.8" fill="#1c3a5c"/>
<circle cx="431.50" cy="53.86" r="1.8" fill="#1c3a5c"/>
<circle cx="443.50" cy="57.26" r="1.8" fill="#1c3a5c"/>
<circle cx="455.50" cy="57.89" r="1.8" fill="#1c3a5c"/>
<circle cx="468.50" cy="59.08" r="1.8" fill="#1c3a5c"/>
<circle cx="480.50" cy="59.08" r="1.8" fill="#1c3a5c"/>
<circle cx="492.50" cy="66.58" r="1.8" fill="#1c3a5c"/>
<circle cx="505.50" cy="72.52" r="1.8" fill="#1c3a5c"/>
<line x1="394.50" y1="60.10" x2="394.50" y2="62.34" stroke="#c8385c" stroke-width="1.0" />
<line x1="392.20" y1="62.34" x2="396.80" y2="62.34" stroke="#c8385c" stroke-width="1.0" />
<line x1="394.50" y1="60.10" x2="394.50" y2="58.10" stroke="#c8385c" stroke-width="1.0" />
<line x1="392.20" y1="58.10" x2="396.80" y2="58.10" stroke="#c8385c" stroke-width="1.0" />
<line x1="406.50" y1="52.59" x2="406.50" y2="55.14" stroke="#c8385c" stroke-width="1.0" />
<line x1="404.20" y1="55.14" x2="408.80" y2="55.14" stroke="#c8385c" stroke-width="1.0" />
<line x1="406.50" y1="52.59" x2="406.50" y2="50.05" stroke="#c8385c" stroke-width="1.0" />
<line x1="404.20" y1="50.05" x2="408.80" y2="50.05" stroke="#c8385c" stroke-width="1.0" />
<line x1="418.50" y1="54.42" x2="418.50" y2="58.95" stroke="#c8385c" stroke-width="1.0" />
<line x1="416.20" y1="58.95" x2="420.80" y2="58.95" stroke="#c8385c" stroke-width="1.0" />
<line x1="418.50" y1="54.42" x2="418.50" y2="50.05" stroke="#c8385c" stroke-width="1.0" />
<line x1="416.20" y1="50.05" x2="420.80" y2="50.05" stroke="#c8385c" stroke-width="1.0" />
<line x1="431.50" y1="58.53" x2="431.50" y2="61.07" stroke="#c8385c" stroke-width="1.0" />
<line x1="429.20" y1="61.07" x2="433.80" y2="61.07" stroke="#c8385c" stroke-width="1.0" />
<line x1="431.50" y1="58.53" x2="431.50" y2="55.98" stroke="#c8385c" stroke-width="1.0" />
<line x1="429.20" y1="55.98" x2="433.80" y2="55.98" stroke="#c8385c" stroke-width="1.0" />
<line x1="443.50" y1="59.80" x2="443.50" y2="62.77" stroke="#c8385c" stroke-width="1.0" />
<line x1="441.20" y1="62.77" x2="445.80" y2="62.77" stroke="#c8385c" stroke-width="1.0" />
<line x1="443.50" y1="59.80" x2="443.50" y2="57.26" stroke="#c8385c" stroke-width="1.0" />
<line x1="441.20" y1="57.26" x2="445.80" y2="57.26" stroke="#c8385c" stroke-width="1.0" />
<line x1="455.50" y1="62.34" x2="455.50" y2="65.74" stroke="#c8385c" stroke-width="1.0" />
<line x1="453.20" y1="65.74" x2="457.80" y2="65.74" stroke="#c8385c" stroke-width="1.0" />
<line x1="455.50" y1="62.34" x2="455.50" y2="59.38" stroke="#c8385c" stroke-width="1.0" />
<line x1="453.20" y1="59.38" x2="457.80" y2="59.38" stroke="#c8385c" stroke-width="1.0" />
<line x1="468.50" y1="63.62" x2="468.50" y2="67.43" stroke="#c8385c" stroke-width="1.0" />
<line x1="466.20" y1="67.43" x2="470.80" y2="67.43" stroke="#c8385c" stroke-width="1.0" />
<line x1="468.50" y1="63.62" x2="468.50" y2="60.65" stroke="#c8385c" stroke-width="1.0" />
<line x1="466.20" y1="60.65" x2="470.80" y2="60.65" stroke="#c8385c" stroke-width="1.0" />
<line x1="480.50" y1="67.01" x2="480.50" y2="71.67" stroke="#c8385c" stroke-width="1.0" />
<line x1="478.20" y1="71.67" x2="482.80" y2="71.67" stroke="#c8385c" stroke-width="1.0" />
<line x1="480.50" y1="67.01" x2="480.50" y2="62.77" stroke="#c8385c" stroke-width="1.0" />
<line x1="478.20" y1="62.77" x2="482.80" y2="62.77" stroke="#c8385c" stroke-width="1.0" />
<line x1="492.50" y1="73.37" x2="492.50" y2="79.30" stroke="#c8385c" stroke-width="1.0" />
<line x1="490.20" y1="79.30" x2="494.80" y2="79.30" stroke="#c8385c" stroke-width="1.0" />
<line x1="492.50" y1="73.37" x2="492.50" y2="68.28" stroke="#c8385c" stroke-width="1.0" />
<line x1="490.20" y1="68.28" x2="494.80" y2="68.28" stroke="#c8385c" stroke-width="1.0" />
<line x1="505.50" y1="80.15" x2="505.50" y2="96.26" stroke="#c8385c" stroke-width="1.0" />
<line x1="503.20" y1="96.26" x2="507.80" y2="96.26" stroke="#c8385c" stroke-width="1.0" />
<line x1="505.50" y1="80.15" x2="505.50" y2="64.04" stroke="#c8385c" stroke-width="1.0" />
<line x1="503.20" y1="64.04" x2="507.80" y2="64.04" stroke="#c8385c" stroke-width="1.0" />
<polyline points="394.50,60.10 406.50,52.59 418.50,54.42 431.50,58.53 443.50,59.80 455.50,62.34 468.50,63.62 480.50,67.01 492.50,73.37 505.50,80.15" fill="none" stroke="#b41c42" stroke-width="1.1" stroke-linejoin="round"/>
<circle cx="394.50" cy="60.10" r="1.8" fill="#b0143f"/>
<circle cx="406.50" cy="52.59" r="1.8" fill="#b0143f"/>
<circle cx="418.50" cy="54.42" r="1.8" fill="#b0143f"/>
<circle cx="431.50" cy="58.53" r="1.8" fill="#b0143f"/>
<circle cx="443.50" cy="59.80" r="1.8" fill="#b0143f"/>
<circle cx="455.50" cy="62.34" r="1.8" fill="#b0143f"/>
<circle cx="468.50" cy="63.62" r="1.8" fill="#b0143f"/>
<circle cx="480.50" cy="67.01" r="1.8" fill="#b0143f"/>
<circle cx="492.50" cy="73.37" r="1.8" fill="#b0143f"/>
<circle cx="505.50" cy="80.15" r="1.8" fill="#b0143f"/>
<circle cx="431.27" cy="46.50" r="1.0" fill="#151515"/>
<circle cx="455.85" cy="50.80" r="1.0" fill="#151515"/>
<circle cx="468.14" cy="50.80" r="1.0" fill="#151515"/>
<circle cx="478.73" cy="50.80" r="1.0" fill="#151515"/>
<circle cx="482.13" cy="50.80" r="1.0" fill="#151515"/>
<circle cx="492.72" cy="50.80" r="1.0" fill="#151515"/>
<text x="96.60" y="167.60" font-size="11.4" text-anchor="middle" font-weight="bold" fill="#000" color="#000" transform="translate(96.60 0) scale(0.93 1) translate(-96.60 0)" >N</text>
<text x="185.30" y="168.20" font-size="9.5" text-anchor="middle" font-weight="normal" fill="#1a1a1a" color="#1a1a1a" transform="translate(185.30 0) scale(1.05 1) translate(-185.30 0)" style="stroke-width:0.2px">MCV</text>
<line x1="121.50" y1="174.00" x2="121.50" y2="262.95" stroke="#111" stroke-width="1.3" />
<line x1="118.20" y1="262.50" x2="121.50" y2="262.50" stroke="#111" stroke-width="1.0" />
<text x="114.70" y="264.80" font-size="7.9" text-anchor="end" font-weight="normal" fill="#1a1a1a" color="#1a1a1a" transform="translate(114.70 0) scale(0.97 1) translate(-114.70 0)" >45</text>
<line x1="118.20" y1="248.50" x2="121.50" y2="248.50" stroke="#111" stroke-width="1.0" />
<text x="114.70" y="250.60" font-size="7.9" text-anchor="end" font-weight="normal" fill="#1a1a1a" color="#1a1a1a" transform="translate(114.70 0) scale(0.97 1) translate(-114.70 0)" >50</text>
<line x1="118.20" y1="233.50" x2="121.50" y2="233.50" stroke="#111" stroke-width="1.0" />
<text x="114.70" y="236.40" font-size="7.9" text-anchor="end" font-weight="normal" fill="#1a1a1a" color="#1a1a1a" transform="translate(114.70 0) scale(0.97 1) translate(-114.70 0)" >55</text>
<line x1="118.20" y1="219.50" x2="121.50" y2="219.50" stroke="#111" stroke-width="1.0" />
<text x="114.70" y="222.20" font-size="7.9" text-anchor="end" font-weight="normal" fill="#1a1a1a" color="#1a1a1a" transform="translate(114.70 0) scale(0.97 1) translate(-114.70 0)" >60</text>
<line x1="118.20" y1="205.50" x2="121.50" y2="205.50" stroke="#111" stroke-width="1.0" />
<text x="114.70" y="208.00" font-size="7.9" text-anchor="end" font-weight="normal" fill="#1a1a1a" color="#1a1a1a" transform="translate(114.70 0) scale(0.97 1) translate(-114.70 0)" >65</text>
<line x1="118.20" y1="191.50" x2="121.50" y2="191.50" stroke="#111" stroke-width="1.0" />
<text x="114.70" y="193.80" font-size="7.9" text-anchor="end" font-weight="normal" fill="#1a1a1a" color="#1a1a1a" transform="translate(114.70 0) scale(0.97 1) translate(-114.70 0)" >70</text>
<line x1="118.20" y1="177.50" x2="121.50" y2="177.50" stroke="#111" stroke-width="1.0" />
<text x="114.70" y="179.60" font-size="7.9" text-anchor="end" font-weight="normal" fill="#1a1a1a" color="#1a1a1a" transform="translate(114.70 0) scale(0.97 1) translate(-114.70 0)" >75</text>
<line x1="120.85" y1="262.50" x2="248.30" y2="262.50" stroke="#111" stroke-width="1.3" />
<line x1="129.50" y1="262.50" x2="129.50" y2="265.50" stroke="#111" stroke-width="1.0" />
<text x="129.70" y="275.20" font-size="7.9" text-anchor="middle" font-weight="normal" fill="#1a1a1a" color="#1a1a1a" transform="translate(129.70 0) scale(0.97 1) translate(-129.70 0)" >4</text>
<line x1="141.50" y1="262.50" x2="141.50" y2="265.50" stroke="#111" stroke-width="1.0" />
<text x="141.98" y="275.20" font-size="7.9" text-anchor="middle" font-weight="normal" fill="#1a1a1a" color="#1a1a1a" transform="translate(141.98 0) scale(0.97 1) translate(-141.98 0)" >8</text>
<line x1="154.50" y1="262.50" x2="154.50" y2="265.50" stroke="#111" stroke-width="1.0" />
<text x="154.26" y="275.20" font-size="7.9" text-anchor="middle" font-weight="normal" fill="#1a1a1a" color="#1a1a1a" transform="translate(154.26 0) scale(0.97 1) translate(-154.26 0)" >12</text>
<line x1="166.50" y1="262.50" x2="166.50" y2="265.50" stroke="#111" stroke-width="1.0" />
<text x="166.54" y="275.20" font-size="7.9" text-anchor="middle" font-weight="normal" fill="#1a1a1a" color="#1a1a1a" transform="translate(166.54 0) scale(0.97 1) translate(-166.54 0)" >16</text>
<line x1="178.50" y1="262.50" x2="178.50" y2="265.50" stroke="#111" stroke-width="1.0" />
<text x="178.82" y="275.20" font-size="7.9" text-anchor="middle" font-weight="normal" fill="#1a1a1a" color="#1a1a1a" transform="translate(178.82 0) scale(0.97 1) translate(-178.82 0)" >21</text>
<line x1="191.50" y1="262.50" x2="191.50" y2="265.50" stroke="#111" stroke-width="1.0" />
<text x="191.10" y="275.20" font-size="7.9" text-anchor="middle" font-weight="normal" fill="#1a1a1a" color="#1a1a1a" transform="translate(191.10 0) scale(0.97 1) translate(-191.10 0)" >24</text>
<line x1="203.50" y1="262.50" x2="203.50" y2="265.50" stroke="#111" stroke-width="1.0" />
<text x="203.38" y="275.20" font-size="7.9" text-anchor="middle" font-weight="normal" fill="#1a1a1a" color="#1a1a1a" transform="translate(203.38 0) scale(0.97 1) translate(-203.38 0)" >30</text>
<line x1="215.50" y1="262.50" x2="215.50" y2="265.50" stroke="#111" stroke-width="1.0" />
<text x="215.66" y="275.20" font-size="7.9" text-anchor="middle" font-weight="normal" fill="#1a1a1a" color="#1a1a1a" transform="translate(215.66 0) scale(0.97 1) translate(-215.66 0)" >34</text>
<line x1="227.50" y1="262.50" x2="227.50" y2="265.50" stroke="#111" stroke-width="1.0" />
<text x="227.94" y="275.20" font-size="7.9" text-anchor="middle" font-weight="normal" fill="#1a1a1a" color="#1a1a1a" transform="translate(227.94 0) scale(0.97 1) translate(-227.94 0)" >44</text>
<line x1="240.50" y1="262.50" x2="240.50" y2="265.50" stroke="#111" stroke-width="1.0" />
<text x="240.22" y="275.20" font-size="7.9" text-anchor="middle" font-weight="normal" fill="#1a1a1a" color="#1a1a1a" transform="translate(240.22 0) scale(0.97 1) translate(-240.22 0)" >65</text>
<text x="184.90" y="288.40" font-size="8.8" text-anchor="middle" font-weight="normal" fill="#1a1a1a" color="#1a1a1a" transform="translate(184.90 0) scale(0.72 1) translate(-184.90 0)" style="stroke-width:0.4px">Weeks</text>
<text font-size="8.8" fill="#1a1a1a" color="#1a1a1a" text-anchor="middle" style="stroke-width:0.15px" transform="translate(100.60 218.20) rotate(-90) scale(0.86 1)">fl/cell</text>
<line x1="129.50" y1="244.42" x2="129.50" y2="250.34" stroke="#416890" stroke-width="1.0" />
<line x1="127.20" y1="250.34" x2="131.80" y2="250.34" stroke="#416890" stroke-width="1.0" />
<line x1="129.50" y1="244.42" x2="129.50" y2="237.37" stroke="#416890" stroke-width="1.0" />
<line x1="127.20" y1="237.37" x2="131.80" y2="237.37" stroke="#416890" stroke-width="1.0" />
<line x1="141.50" y1="250.90" x2="141.50" y2="254.57" stroke="#416890" stroke-width="1.0" />
<line x1="139.20" y1="254.57" x2="143.80" y2="254.57" stroke="#416890" stroke-width="1.0" />
<line x1="141.50" y1="250.90" x2="141.50" y2="248.36" stroke="#416890" stroke-width="1.0" />
<line x1="139.20" y1="248.36" x2="143.80" y2="248.36" stroke="#416890" stroke-width="1.0" />
<line x1="154.50" y1="248.93" x2="154.50" y2="254.00" stroke="#416890" stroke-width="1.0" />
<line x1="152.20" y1="254.00" x2="156.80" y2="254.00" stroke="#416890" stroke-width="1.0" />
<line x1="154.50" y1="248.93" x2="154.50" y2="243.57" stroke="#416890" stroke-width="1.0" />
<line x1="152.20" y1="243.57" x2="156.80" y2="243.57" stroke="#416890" stroke-width="1.0" />
<line x1="166.50" y1="250.62" x2="166.50" y2="255.70" stroke="#416890" stroke-width="1.0" />
<line x1="164.20" y1="255.70" x2="168.80" y2="255.70" stroke="#416890" stroke-width="1.0" />
<line x1="166.50" y1="250.62" x2="166.50" y2="243.57" stroke="#416890" stroke-width="1.0" />
<line x1="164.20" y1="243.57" x2="168.80" y2="243.57" stroke="#416890" stroke-width="1.0" />
<line x1="178.50" y1="245.26" x2="178.50" y2="251.75" stroke="#416890" stroke-width="1.0" />
<line x1="176.20" y1="251.75" x2="180.80" y2="251.75" stroke="#416890" stroke-width="1.0" />
<line x1="178.50" y1="245.26" x2="178.50" y2="240.75" stroke="#416890" stroke-width="1.0" />
<line x1="176.20" y1="240.75" x2="180.80" y2="240.75" stroke="#416890" stroke-width="1.0" />
<line x1="191.50" y1="246.11" x2="191.50" y2="252.59" stroke="#416890" stroke-width="1.0" />
<line x1="189.20" y1="252.59" x2="193.80" y2="252.59" stroke="#416890" stroke-width="1.0" />
<line x1="191.50" y1="246.11" x2="191.50" y2="242.16" stroke="#416890" stroke-width="1.0" />
<line x1="189.20" y1="242.16" x2="193.80" y2="242.16" stroke="#416890" stroke-width="1.0" />
<line x1="203.50" y1="239.06" x2="203.50" y2="250.62" stroke="#416890" stroke-width="1.0" />
<line x1="201.20" y1="250.62" x2="205.80" y2="250.62" stroke="#416890" stroke-width="1.0" />
<line x1="203.50" y1="239.06" x2="203.50" y2="233.70" stroke="#416890" stroke-width="1.0" />
<line x1="201.20" y1="233.70" x2="205.80" y2="233.70" stroke="#416890" stroke-width="1.0" />
<line x1="215.50" y1="238.21" x2="215.50" y2="250.62" stroke="#416890" stroke-width="1.0" />
<line x1="213.20" y1="250.62" x2="217.80" y2="250.62" stroke="#416890" stroke-width="1.0" />
<line x1="215.50" y1="238.21" x2="215.50" y2="233.70" stroke="#416890" stroke-width="1.0" />
<line x1="213.20" y1="233.70" x2="217.80" y2="233.70" stroke="#416890" stroke-width="1.0" />
<line x1="227.50" y1="228.91" x2="227.50" y2="241.03" stroke="#416890" stroke-width="1.0" />
<line x1="225.20" y1="241.03" x2="229.80" y2="241.03" stroke="#416890" stroke-width="1.0" />
<line x1="227.50" y1="228.91" x2="227.50" y2="223.83" stroke="#416890" stroke-width="1.0" />
<line x1="225.20" y1="223.83" x2="229.80" y2="223.83" stroke="#416890" stroke-width="1.0" />
<line x1="240.50" y1="215.37" x2="240.50" y2="233.70" stroke="#416890" stroke-width="1.0" />
<line x1="238.20" y1="233.70" x2="242.80" y2="233.70" stroke="#416890" stroke-width="1.0" />
<line x1="240.50" y1="215.37" x2="240.50" y2="209.73" stroke="#416890" stroke-width="1.0" />
<line x1="238.20" y1="209.73" x2="242.80" y2="209.73" stroke="#416890" stroke-width="1.0" />
<polyline points="129.50,244.42 141.50,250.90 154.50,248.93 166.50,250.62 178.50,245.26 191.50,246.11 203.50,239.06 215.50,238.21 227.50,228.91 240.50,215.37" fill="none" stroke="#2c5580" stroke-width="1.1" stroke-linejoin="round"/>
<circle cx="129.50" cy="244.42" r="1.8" fill="#1c3a5c"/>
<circle cx="141.50" cy="250.90" r="1.8" fill="#1c3a5c"/>
<circle cx="154.50" cy="248.93" r="1.8" fill="#1c3a5c"/>
<circle cx="166.50" cy="250.62" r="1.8" fill="#1c3a5c"/>
<circle cx="178.50" cy="245.26" r="1.8" fill="#1c3a5c"/>
<circle cx="191.50" cy="246.11" r="1.8" fill="#1c3a5c"/>
<circle cx="203.50" cy="239.06" r="1.8" fill="#1c3a5c"/>
<circle cx="215.50" cy="238.21" r="1.8" fill="#1c3a5c"/>
<circle cx="227.50" cy="228.91" r="1.8" fill="#1c3a5c"/>
<circle cx="240.50" cy="215.37" r="1.8" fill="#1c3a5c"/>
<line x1="129.50" y1="243.85" x2="129.50" y2="247.24" stroke="#c8385c" stroke-width="1.0" />
<line x1="127.20" y1="247.24" x2="131.80" y2="247.24" stroke="#c8385c" stroke-width="1.0" />
<line x1="129.50" y1="243.85" x2="129.50" y2="240.75" stroke="#c8385c" stroke-width="1.0" />
<line x1="127.20" y1="240.75" x2="131.80" y2="240.75" stroke="#c8385c" stroke-width="1.0" />
<line x1="141.50" y1="252.31" x2="141.50" y2="255.41" stroke="#c8385c" stroke-width="1.0" />
<line x1="139.20" y1="255.41" x2="143.80" y2="255.41" stroke="#c8385c" stroke-width="1.0" />
<line x1="141.50" y1="252.31" x2="141.50" y2="249.21" stroke="#c8385c" stroke-width="1.0" />
<line x1="139.20" y1="249.21" x2="143.80" y2="249.21" stroke="#c8385c" stroke-width="1.0" />
<line x1="154.50" y1="248.93" x2="154.50" y2="254.00" stroke="#c8385c" stroke-width="1.0" />
<line x1="152.20" y1="254.00" x2="156.80" y2="254.00" stroke="#c8385c" stroke-width="1.0" />
<line x1="154.50" y1="248.93" x2="154.50" y2="243.57" stroke="#c8385c" stroke-width="1.0" />
<line x1="152.20" y1="243.57" x2="156.80" y2="243.57" stroke="#c8385c" stroke-width="1.0" />
<line x1="166.50" y1="248.08" x2="166.50" y2="253.72" stroke="#c8385c" stroke-width="1.0" />
<line x1="164.20" y1="253.72" x2="168.80" y2="253.72" stroke="#c8385c" stroke-width="1.0" />
<line x1="166.50" y1="248.08" x2="166.50" y2="243.57" stroke="#c8385c" stroke-width="1.0" />
<line x1="164.20" y1="243.57" x2="168.80" y2="243.57" stroke="#c8385c" stroke-width="1.0" />
<line x1="178.50" y1="240.75" x2="178.50" y2="246.39" stroke="#c8385c" stroke-width="1.0" />
<line x1="176.20" y1="246.39" x2="180.80" y2="246.39" stroke="#c8385c" stroke-width="1.0" />
<line x1="178.50" y1="240.75" x2="178.50" y2="233.98" stroke="#c8385c" stroke-width="1.0" />
<line x1="176.20" y1="233.98" x2="180.80" y2="233.98" stroke="#c8385c" stroke-width="1.0" />
<line x1="191.50" y1="238.78" x2="191.50" y2="244.98" stroke="#c8385c" stroke-width="1.0" />
<line x1="189.20" y1="244.98" x2="193.80" y2="244.98" stroke="#c8385c" stroke-width="1.0" />
<line x1="191.50" y1="238.78" x2="191.50" y2="231.73" stroke="#c8385c" stroke-width="1.0" />
<line x1="189.20" y1="231.73" x2="193.80" y2="231.73" stroke="#c8385c" stroke-width="1.0" />
<line x1="203.50" y1="229.19" x2="203.50" y2="235.11" stroke="#c8385c" stroke-width="1.0" />
<line x1="201.20" y1="235.11" x2="205.80" y2="235.11" stroke="#c8385c" stroke-width="1.0" />
<line x1="203.50" y1="229.19" x2="203.50" y2="221.01" stroke="#c8385c" stroke-width="1.0" />
<line x1="201.20" y1="221.01" x2="205.80" y2="221.01" stroke="#c8385c" stroke-width="1.0" />
<line x1="215.50" y1="226.09" x2="215.50" y2="232.29" stroke="#c8385c" stroke-width="1.0" />
<line x1="213.20" y1="232.29" x2="217.80" y2="232.29" stroke="#c8385c" stroke-width="1.0" />
<line x1="215.50" y1="226.09" x2="215.50" y2="218.47" stroke="#c8385c" stroke-width="1.0" />
<line x1="213.20" y1="218.47" x2="217.80" y2="218.47" stroke="#c8385c" stroke-width="1.0" />
<line x1="227.50" y1="220.16" x2="227.50" y2="228.06" stroke="#c8385c" stroke-width="1.0" />
<line x1="225.20" y1="228.06" x2="229.80" y2="228.06" stroke="#c8385c" stroke-width="1.0" />
<line x1="227.50" y1="220.16" x2="227.50" y2="209.17" stroke="#c8385c" stroke-width="1.0" />
<line x1="225.20" y1="209.17" x2="229.80" y2="209.17" stroke="#c8385c" stroke-width="1.0" />
<line x1="240.50" y1="202.40" x2="240.50" y2="209.73" stroke="#c8385c" stroke-width="1.0" />
<line x1="238.20" y1="209.73" x2="242.80" y2="209.73" stroke="#c8385c" stroke-width="1.0" />
<line x1="240.50" y1="202.40" x2="240.50" y2="193.37" stroke="#c8385c" stroke-width="1.0" />
<line x1="238.20" y1="193.37" x2="242.80" y2="193.37" stroke="#c8385c" stroke-width="1.0" />
<polyline points="129.50,243.85 141.50,252.31 154.50,248.93 166.50,248.08 178.50,240.75 191.50,238.78 203.50,229.19 215.50,226.09 227.50,220.16 240.50,202.40" fill="none" stroke="#b41c42" stroke-width="1.1" stroke-linejoin="round"/>
<circle cx="129.50" cy="243.85" r="1.8" fill="#b0143f"/>
<circle cx="141.50" cy="252.31" r="1.8" fill="#b0143f"/>
<circle cx="154.50" cy="248.93" r="1.8" fill="#b0143f"/>
<circle cx="166.50" cy="248.08" r="1.8" fill="#b0143f"/>
<circle cx="178.50" cy="240.75" r="1.8" fill="#b0143f"/>
<circle cx="191.50" cy="238.78" r="1.8" fill="#b0143f"/>
<circle cx="203.50" cy="229.19" r="1.8" fill="#b0143f"/>
<circle cx="215.50" cy="226.09" r="1.8" fill="#b0143f"/>
<circle cx="227.50" cy="220.16" r="1.8" fill="#b0143f"/>
<circle cx="240.50" cy="202.40" r="1.8" fill="#b0143f"/>
<circle cx="215.66" cy="212.70" r="1.0" fill="#151515"/>
<text x="268.80" y="167.40" font-size="11.4" text-anchor="middle" font-weight="bold" fill="#000" color="#000" >O</text>
<line x1="297.50" y1="174.00" x2="297.50" y2="263.15" stroke="#111" stroke-width="1.3" />
<line x1="294.90" y1="262.50" x2="297.50" y2="262.50" stroke="#111" stroke-width="1.0" />
<line x1="296.20" y1="258.45" x2="297.50" y2="258.45" stroke="#111" stroke-width="0.9" />
<line x1="296.20" y1="254.61" x2="297.50" y2="254.61" stroke="#111" stroke-width="0.9" />
<line x1="296.20" y1="250.77" x2="297.50" y2="250.77" stroke="#111" stroke-width="0.9" />
<line x1="296.20" y1="246.92" x2="297.50" y2="246.92" stroke="#111" stroke-width="0.9" />
<line x1="296.20" y1="243.08" x2="297.50" y2="243.08" stroke="#111" stroke-width="0.9" />
<line x1="296.20" y1="239.23" x2="297.50" y2="239.23" stroke="#111" stroke-width="0.9" />
<line x1="296.20" y1="235.39" x2="297.50" y2="235.39" stroke="#111" stroke-width="0.9" />
<line x1="296.20" y1="231.54" x2="297.50" y2="231.54" stroke="#111" stroke-width="0.9" />
<line x1="296.20" y1="227.69" x2="297.50" y2="227.69" stroke="#111" stroke-width="0.9" />
<line x1="294.90" y1="223.50" x2="297.50" y2="223.50" stroke="#111" stroke-width="1.0" />
<line x1="296.20" y1="220.00" x2="297.50" y2="220.00" stroke="#111" stroke-width="0.9" />
<line x1="296.20" y1="216.16" x2="297.50" y2="216.16" stroke="#111" stroke-width="0.9" />
<line x1="296.20" y1="212.31" x2="297.50" y2="212.31" stroke="#111" stroke-width="0.9" />
<line x1="296.20" y1="208.47" x2="297.50" y2="208.47" stroke="#111" stroke-width="0.9" />
<line x1="296.20" y1="204.62" x2="297.50" y2="204.62" stroke="#111" stroke-width="0.9" />
<line x1="296.20" y1="200.78" x2="297.50" y2="200.78" stroke="#111" stroke-width="0.9" />
<line x1="296.20" y1="196.94" x2="297.50" y2="196.94" stroke="#111" stroke-width="0.9" />
<line x1="296.20" y1="193.09" x2="297.50" y2="193.09" stroke="#111" stroke-width="0.9" />
<line x1="296.20" y1="189.25" x2="297.50" y2="189.25" stroke="#111" stroke-width="0.9" />
<line x1="294.90" y1="185.50" x2="297.50" y2="185.50" stroke="#111" stroke-width="1.0" />
<line x1="296.20" y1="181.56" x2="297.50" y2="181.56" stroke="#111" stroke-width="0.9" />
<line x1="296.20" y1="177.71" x2="297.50" y2="177.71" stroke="#111" stroke-width="0.9" />
<line x1="296.20" y1="173.87" x2="297.50" y2="173.87" stroke="#111" stroke-width="0.9" />
<text x="291.60" y="265.00" font-size="7.9" text-anchor="end" font-weight="normal" fill="#1a1a1a" color="#1a1a1a" transform="translate(291.60 0) scale(1.07 1) translate(-291.60 0)" >0</text>
<text x="291.60" y="226.55" font-size="7.9" text-anchor="end" font-weight="normal" fill="#1a1a1a" color="#1a1a1a" transform="translate(291.60 0) scale(1.07 1) translate(-291.60 0)" >50</text>
<text x="291.60" y="188.10" font-size="7.9" text-anchor="end" font-weight="normal" fill="#1a1a1a" color="#1a1a1a" transform="translate(291.60 0) scale(1.07 1) translate(-291.60 0)" >100</text>
<line x1="296.85" y1="262.50" x2="423.90" y2="262.50" stroke="#111" stroke-width="1.3" />
<line x1="297.50" y1="262.50" x2="297.50" y2="265.20" stroke="#111" stroke-width="1.0" />
<text x="297.70" y="276.60" font-size="7.9" text-anchor="middle" font-weight="normal" fill="#1a1a1a" color="#1a1a1a" transform="translate(297.70 0) scale(1.07 1) translate(-297.70 0)" >0</text>
<line x1="322.50" y1="262.50" x2="322.50" y2="265.20" stroke="#111" stroke-width="1.0" />
<text x="322.28" y="276.60" font-size="7.9" text-anchor="middle" font-weight="normal" fill="#1a1a1a" color="#1a1a1a" transform="translate(322.28 0) scale(1.07 1) translate(-322.28 0)" >100</text>
<line x1="346.50" y1="262.50" x2="346.50" y2="265.20" stroke="#111" stroke-width="1.0" />
<text x="346.86" y="276.60" font-size="7.9" text-anchor="middle" font-weight="normal" fill="#1a1a1a" color="#1a1a1a" transform="translate(346.86 0) scale(1.07 1) translate(-346.86 0)" >200</text>
<line x1="371.50" y1="262.50" x2="371.50" y2="265.20" stroke="#111" stroke-width="1.0" />
<text x="371.44" y="276.60" font-size="7.9" text-anchor="middle" font-weight="normal" fill="#1a1a1a" color="#1a1a1a" transform="translate(371.44 0) scale(1.07 1) translate(-371.44 0)" >300</text>
<line x1="396.50" y1="262.50" x2="396.50" y2="265.20" stroke="#111" stroke-width="1.0" />
<text x="396.02" y="276.60" font-size="7.9" text-anchor="middle" font-weight="normal" fill="#1a1a1a" color="#1a1a1a" transform="translate(396.02 0) scale(1.07 1) translate(-396.02 0)" >400</text>
<line x1="420.50" y1="262.50" x2="420.50" y2="265.20" stroke="#111" stroke-width="1.0" />
<text x="420.60" y="276.60" font-size="7.9" text-anchor="middle" font-weight="normal" fill="#1a1a1a" color="#1a1a1a" transform="translate(420.60 0) scale(1.07 1) translate(-420.60 0)" >500</text>
<text x="360.95" y="289.50" font-size="8.8" text-anchor="middle" font-weight="normal" fill="#1a1a1a" color="#1a1a1a" transform="translate(360.95 0) scale(0.7 1) translate(-360.95 0)" style="stroke-width:0.4px">Days</text>
<text font-size="8.8" fill="#1a1a1a" color="#1a1a1a" text-anchor="middle" style="stroke-width:0.2px" transform="translate(271.80 217.65) rotate(-90) scale(0.76 1)">Probability of survival</text>
<polyline points="297.50,185.50 326.50,185.50 326.50,193.50 348.50,193.50 348.50,202.50 376.50,202.50 376.50,211.50 381.50,211.50 381.50,219.50 386.50,219.50 386.50,228.50 412.50,228.50 412.50,236.50" fill="none" stroke="#d04468" stroke-width="1.1"/>
<polyline points="297.50,185.50 357.50,185.50 357.50,193.50 369.50,193.50 369.50,200.50 407.50,200.50 407.50,208.50 412.50,208.50" fill="none" stroke="#4570a0" stroke-width="1.1"/>
<line x1="411.74" y1="208.47" x2="411.74" y2="206.87" stroke="#4570a0" stroke-width="1.0" />
<text x="373.60" y="192.20" font-size="7.3" text-anchor="start" font-weight="normal" fill="#1a1a1a" color="#1a1a1a" transform="translate(373.60 0) scale(1.12 1) translate(-373.60 0)" ><tspan font-style="italic">P</tspan> = .125</text>
<line x1="302.60" y1="238.50" x2="312.60" y2="238.50" stroke="#4570a0" stroke-width="1.1" />
<line x1="307.50" y1="237.00" x2="307.50" y2="238.50" stroke="#4570a0" stroke-width="0.9" />
<line x1="302.60" y1="250.30" x2="312.60" y2="250.30" stroke="#d04468" stroke-width="1.1" />
<line x1="307.50" y1="248.80" x2="307.50" y2="250.30" stroke="#d04468" stroke-width="0.9" />
<text x="315.80" y="240.90" font-size="7.1" text-anchor="start" font-weight="normal" fill="#1a1a1a" color="#1a1a1a" transform="translate(315.80 0) scale(1.04 1) translate(-315.80 0)" >WT-n = 10</text>
<text x="315.80" y="252.60" font-size="7.1" text-anchor="start" font-weight="normal" fill="#1a1a1a" color="#1a1a1a" transform="translate(315.80 0) scale(1.06 1) translate(-315.80 0)" ><tspan font-style="italic">Spp1</tspan>-KO n = 9</text>
<rect x="0.5" y="0.5" width="519" height="298" fill="none" stroke="#575757" stroke-width="1"/>
</svg>
</body></html>
